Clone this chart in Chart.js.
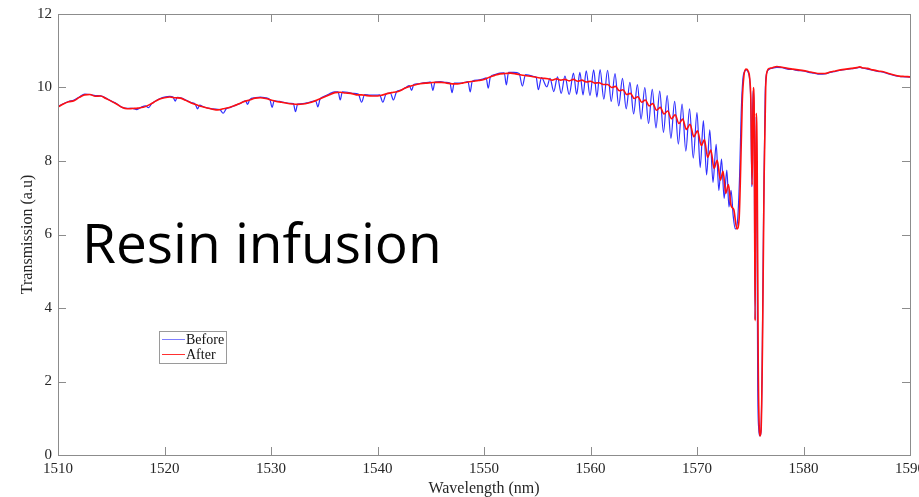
<!DOCTYPE html>
<html lang="en">
<head>
    <meta charset="UTF-8">
    <title>Resin infusion - transmission spectrum</title>
    <script src="https://cdn.jsdelivr.net/npm/chart.js"></script>
    <style>
        html, body { margin: 0; padding: 0; background: #fff; }
        #wrap { width: 919px; height: 497px; }
    </style>
</head>
<body>
    <div id="wrap">
        <canvas id="spectrum"></canvas>
    </div>

    <script>
        // axis ticks
        const xTicks = [1510, 1520, 1530, 1540, 1550, 1560, 1570, 1580, 1590];
        const yTicks = [0, 2, 4, 6, 8, 10, 12];

        // [wavelength (nm), transmission (a.u)]
        const before = [
            [1510.0, 9.48], [1510.5, 9.56], [1511.0, 9.62], [1511.5, 9.66], [1512.0, 9.74], [1512.5, 9.82],
            [1513.0, 9.81], [1513.5, 9.78], [1514.0, 9.77], [1514.5, 9.71], [1515.0, 9.63], [1515.5, 9.56],
            [1516.0, 9.46], [1516.5, 9.43], [1517.0, 9.43], [1517.4, 9.40], [1517.8, 9.46], [1518.2, 9.50],
            [1518.5, 9.45], [1518.8, 9.56], [1519.2, 9.64], [1519.6, 9.70], [1520.0, 9.74], [1520.5, 9.76],
            [1520.8, 9.74], [1521.0, 9.63], [1521.2, 9.73], [1521.6, 9.71], [1522.0, 9.66], [1522.5, 9.59],
            [1522.9, 9.54], [1523.1, 9.42], [1523.3, 9.52], [1523.7, 9.47], [1524.2, 9.43], [1524.7, 9.41],
            [1525.2, 9.40], [1525.5, 9.30], [1525.8, 9.42], [1526.2, 9.46], [1526.7, 9.52], [1527.2, 9.58],
            [1527.6, 9.64], [1527.8, 9.54], [1528.0, 9.67], [1528.5, 9.72], [1529.0, 9.74], [1529.5, 9.72],
            [1529.9, 9.67], [1530.1, 9.46], [1530.3, 9.64], [1530.8, 9.62], [1531.3, 9.59], [1531.8, 9.57],
            [1532.1, 9.56], [1532.3, 9.34], [1532.5, 9.55], [1533.0, 9.56], [1533.5, 9.59], [1534.0, 9.63],
            [1534.2, 9.64], [1534.4, 9.47], [1534.6, 9.68], [1535.0, 9.76], [1535.5, 9.83], [1536.0, 9.88],
            [1536.3, 9.88], [1536.5, 9.66], [1536.7, 9.88], [1537.2, 9.87], [1537.7, 9.84], [1538.2, 9.82],
            [1538.5, 9.60], [1538.8, 9.81], [1539.3, 9.79], [1539.8, 9.79], [1540.2, 9.80], [1540.5, 9.60],
            [1540.8, 9.82], [1541.2, 9.85], [1541.5, 9.66], [1541.8, 9.89], [1542.2, 9.93], [1542.6, 9.99],
            [1543.0, 10.05], [1543.2, 9.92], [1543.4, 10.08], [1543.8, 10.10], [1544.3, 10.13], [1544.8, 10.14],
            [1545.0, 10.15], [1545.2, 9.92], [1545.4, 10.15], [1545.9, 10.16], [1546.4, 10.14], [1546.8, 10.12],
            [1547.0, 9.86], [1547.2, 10.12], [1547.7, 10.12], [1548.2, 10.14], [1548.5, 10.16], [1548.7, 9.88],
            [1548.9, 10.17], [1549.4, 10.20], [1549.9, 10.23], [1550.2, 10.26], [1550.4, 9.98], [1550.6, 10.29],
            [1551.0, 10.35], [1551.5, 10.39], [1551.9, 10.40], [1552.1, 10.07], [1552.3, 10.41], [1552.8, 10.41],
            [1553.3, 10.38], [1553.6, 10.04], [1553.9, 10.35], [1554.3, 10.33], [1554.7, 10.30], [1554.9, 10.28],
            [1555.1, 9.94], [1555.4, 10.27],
            // fringes
            [1555.9, 10.02], [1556.2, 10.25], [1556.55, 9.89], [1556.9, 10.29], [1557.25, 9.84], [1557.6, 10.31],
            [1558.0, 9.81], [1558.4, 10.39], [1558.7, 9.81], [1559.0, 10.41], [1559.3, 9.80], [1559.6, 10.45],
            [1559.95, 9.78], [1560.3, 10.48], [1560.6, 9.74], [1560.9, 10.49], [1561.25, 9.68], [1561.6, 10.47],
            [1561.95, 9.62], [1562.3, 10.38], [1562.65, 9.50], [1563.0, 10.25], [1563.35, 9.42], [1563.7, 10.14],
            [1564.05, 9.28], [1564.4, 10.08], [1564.75, 9.14], [1565.1, 10.00], [1565.45, 9.02], [1565.8, 9.95],
            [1566.15, 8.90], [1566.5, 9.90], [1566.85, 8.78], [1567.2, 9.78], [1567.55, 8.62], [1567.9, 9.62],
            [1568.25, 8.46], [1568.6, 9.55], [1568.95, 8.27], [1569.3, 9.42], [1569.65, 8.08], [1570.0, 9.32],
            [1570.3, 7.82], [1570.6, 9.10], [1570.9, 7.62], [1571.2, 8.85], [1571.5, 7.42], [1571.8, 8.45],
            [1572.05, 7.20], [1572.3, 8.05], [1572.55, 6.98], [1572.8, 7.75], [1573.0, 6.75], [1573.2, 7.20],
            [1573.4, 6.50], [1573.6, 6.15],
            // notch
            [1573.8, 6.35], [1574.0, 7.6], [1574.15, 9.3], [1574.3, 10.2], [1574.5, 10.45], [1574.65, 10.48],
            [1574.8, 10.42], [1574.95, 10.2], [1575.05, 9.6], [1575.15, 7.3], [1575.25, 9.9], [1575.35, 9.5],
            [1575.45, 3.7], [1575.55, 9.2], [1575.62, 7.5], [1575.7, 2.0], [1575.8, 0.7], [1575.9, 0.52],
            [1576.0, 0.6], [1576.12, 2.5], [1576.25, 6.5], [1576.4, 9.8], [1576.55, 10.4], [1576.8, 10.5],
            [1577.0, 10.52], [1577.5, 10.55], [1578.0, 10.54], [1578.5, 10.50], [1579.0, 10.49], [1579.5, 10.46],
            [1580.0, 10.45], [1580.5, 10.41], [1581.0, 10.39], [1581.5, 10.36], [1582.0, 10.37], [1582.5, 10.41],
            [1583.0, 10.44], [1583.5, 10.47], [1584.0, 10.49], [1584.5, 10.51], [1585.0, 10.53], [1585.3, 10.55],
            [1585.5, 10.53], [1586.0, 10.50], [1586.5, 10.47], [1587.0, 10.44], [1587.5, 10.42], [1588.0, 10.37],
            [1588.5, 10.33], [1589.0, 10.30], [1589.5, 10.29], [1590.0, 10.28]
        ];

        const after = [
            [1510.0, 9.47], [1510.5, 9.55], [1511.0, 9.61], [1511.5, 9.64], [1512.0, 9.73], [1512.5, 9.80],
            [1513.0, 9.81], [1513.5, 9.76], [1514.0, 9.77], [1514.5, 9.70], [1515.0, 9.63], [1515.5, 9.55],
            [1516.0, 9.46], [1516.5, 9.42], [1517.0, 9.43], [1517.5, 9.44], [1518.0, 9.46], [1518.5, 9.52],
            [1519.0, 9.60], [1519.5, 9.68], [1520.0, 9.72], [1520.5, 9.74], [1521.0, 9.72], [1521.5, 9.71],
            [1522.0, 9.65], [1522.5, 9.58], [1523.0, 9.53], [1523.5, 9.48], [1524.0, 9.44], [1524.5, 9.41],
            [1525.0, 9.39], [1525.5, 9.42], [1526.0, 9.45], [1526.5, 9.50], [1527.0, 9.56], [1527.5, 9.62],
            [1528.0, 9.66], [1528.5, 9.71], [1529.0, 9.72], [1529.5, 9.70], [1530.0, 9.66], [1530.5, 9.62],
            [1531.0, 9.60], [1531.5, 9.57], [1532.0, 9.55], [1532.5, 9.54], [1533.0, 9.55], [1533.5, 9.58],
            [1534.0, 9.62], [1534.5, 9.68], [1535.0, 9.74], [1535.5, 9.80], [1536.0, 9.86], [1536.5, 9.87],
            [1537.0, 9.85], [1537.5, 9.84], [1538.0, 9.80], [1538.5, 9.80], [1539.0, 9.78], [1539.5, 9.77],
            [1540.0, 9.77], [1540.5, 9.80], [1541.0, 9.84], [1541.5, 9.87], [1542.0, 9.90], [1542.5, 9.97],
            [1543.0, 10.03], [1543.5, 10.07], [1544.0, 10.10], [1544.5, 10.12], [1545.0, 10.13], [1545.5, 10.14],
            [1546.0, 10.14], [1546.5, 10.12], [1547.0, 10.10], [1547.5, 10.10], [1548.0, 10.12], [1548.5, 10.15],
            [1549.0, 10.17], [1549.5, 10.19], [1550.0, 10.22], [1550.5, 10.28], [1551.0, 10.33], [1551.5, 10.37],
            [1552.0, 10.38], [1552.5, 10.39], [1553.0, 10.37], [1553.5, 10.34], [1554.0, 10.32], [1554.5, 10.30],
            [1555.0, 10.27], [1555.5, 10.25], [1556.0, 10.24], [1556.4, 10.20], [1556.8, 10.24], [1557.2, 10.20],
            [1557.6, 10.22], [1558.0, 10.18], [1558.4, 10.22], [1558.8, 10.17], [1559.2, 10.20], [1559.6, 10.15],
            [1560.0, 10.17], [1560.4, 10.12], [1560.8, 10.13], [1561.2, 10.08], [1561.6, 10.08], [1562.0, 10.00],
            [1562.35, 10.03], [1562.7, 9.91], [1563.05, 9.94], [1563.4, 9.81], [1563.75, 9.84], [1564.1, 9.70],
            [1564.45, 9.75], [1564.8, 9.60], [1565.15, 9.66], [1565.5, 9.50], [1565.85, 9.56], [1566.2, 9.38],
            [1566.55, 9.46], [1566.9, 9.28], [1567.25, 9.36], [1567.6, 9.15], [1567.95, 9.26], [1568.3, 9.02],
            [1568.65, 9.14], [1569.0, 8.86], [1569.35, 9.00], [1569.7, 8.66], [1570.05, 8.82], [1570.4, 8.42],
            [1570.7, 8.58], [1571.0, 8.10], [1571.3, 8.30], [1571.6, 7.80], [1571.9, 8.02], [1572.2, 7.48],
            [1572.45, 7.72], [1572.7, 7.12], [1572.95, 7.36], [1573.2, 6.78], [1573.45, 6.68], [1573.75, 6.15],
            [1573.95, 6.40], [1574.1, 7.8], [1574.25, 9.6], [1574.4, 10.3], [1574.6, 10.5], [1574.8, 10.45],
            [1574.95, 10.25], [1575.05, 9.7], [1575.18, 7.35], [1575.28, 10.0], [1575.36, 9.6], [1575.46, 3.65],
            [1575.56, 9.3], [1575.65, 8.0], [1575.75, 2.5], [1575.85, 0.7], [1575.92, 0.52], [1576.02, 0.7],
            [1576.15, 3.0], [1576.3, 7.5], [1576.45, 10.0], [1576.6, 10.45], [1576.8, 10.52],
            [1577.0, 10.53], [1577.5, 10.57], [1578.0, 10.55], [1578.5, 10.52], [1579.0, 10.50], [1579.5, 10.48],
            [1580.0, 10.46], [1580.5, 10.43], [1581.0, 10.40], [1581.5, 10.38], [1582.0, 10.38], [1582.5, 10.42],
            [1583.0, 10.45], [1583.5, 10.48], [1584.0, 10.50], [1584.5, 10.52], [1585.0, 10.54], [1585.3, 10.56],
            [1585.5, 10.54], [1586.0, 10.52], [1586.5, 10.48], [1587.0, 10.45], [1587.5, 10.43], [1588.0, 10.38],
            [1588.5, 10.34], [1589.0, 10.31], [1589.5, 10.30], [1590.0, 10.29]
        ];

        const serif = "'Liberation Serif', 'Times New Roman', serif";
        const axisGrey = '#8c8c8c';

        // MATLAB style box: frame, inward ticks, legend and the big label
        const matlabBox = {
            id: 'matlabBox',
            afterDraw(chart) {
                const { ctx, chartArea: a, scales: { x, y } } = chart;
                ctx.save();
                ctx.strokeStyle = axisGrey;
                ctx.lineWidth = 1;
                ctx.strokeRect(a.left + 0.5, a.top + 0.5, a.right - a.left, a.bottom - a.top);
                ctx.beginPath();
                xTicks.forEach(v => {
                    const px = Math.round(x.getPixelForValue(v)) + 0.5;
                    ctx.moveTo(px, a.bottom); ctx.lineTo(px, a.bottom - 8);
                    ctx.moveTo(px, a.top); ctx.lineTo(px, a.top + 8);
                });
                yTicks.forEach(v => {
                    const py = Math.round(y.getPixelForValue(v)) + 0.5;
                    ctx.moveTo(a.left, py); ctx.lineTo(a.left + 8, py);
                    ctx.moveTo(a.right, py); ctx.lineTo(a.right - 8, py);
                });
                ctx.stroke();

                // legend
                const lx = a.left + 101, ly = a.top + 317;
                ctx.fillStyle = '#fff';
                ctx.fillRect(lx, ly, 67, 32);
                ctx.strokeStyle = '#9a9a9a';
                ctx.strokeRect(lx + 0.5, ly + 0.5, 67, 32);
                ctx.lineWidth = 1;
                ctx.strokeStyle = '#7f7fff';
                ctx.beginPath(); ctx.moveTo(lx + 3, ly + 8.5); ctx.lineTo(lx + 26, ly + 8.5); ctx.stroke();
                ctx.strokeStyle = '#ff3030';
                ctx.beginPath(); ctx.moveTo(lx + 3, ly + 23.5); ctx.lineTo(lx + 26, ly + 23.5); ctx.stroke();
                ctx.fillStyle = '#111';
                ctx.font = '14px ' + serif;
                ctx.textBaseline = 'middle';
                ctx.fillText('Before', lx + 27, ly + 9);
                ctx.fillText('After', lx + 27, ly + 24);

                // overlay label
                ctx.font = "55px 'Open Sans', 'Noto Sans', sans-serif";
                ctx.textBaseline = 'alphabetic';
                ctx.fillStyle = '#000';
                ctx.fillText('Resin infusion', x.getPixelForValue(1512.25), y.getPixelForValue(5.22));
                ctx.restore();
            }
        };

        const toXY = arr => arr.map(p => ({ x: p[0], y: p[1] }));

        new Chart(document.getElementById('spectrum'), {
            type: 'line',
            data: {
                datasets: [
                    {
                        label: 'Before',
                        data: toXY(before),
                        borderColor: 'rgba(10,10,255,0.85)',
                        borderWidth: 1.2,
                        pointRadius: 0,
                        cubicInterpolationMode: 'monotone',
                        order: 2
                    },
                    {
                        label: 'After',
                        data: toXY(after),
                        borderColor: '#ff1010',
                        borderWidth: 1.6,
                        pointRadius: 0,
                        cubicInterpolationMode: 'monotone',
                        order: 1
                    }
                ]
            },
            plugins: [matlabBox],
            options: {
                responsive: true,
                maintainAspectRatio: false,
                animation: false,
                layout: { padding: { top: 14, right: 9, left: 0, bottom: 0 } },
                plugins: {
                    legend: { display: false },
                    tooltip: { enabled: false }
                },
                scales: {
                    x: {
                        type: 'linear',
                        min: 1510,
                        max: 1590,
                        grid: { display: false, drawTicks: false },
                        border: { display: false },
                        afterBuildTicks: s => { s.ticks = xTicks.map(v => ({ value: v })); },
                        afterFit: s => { s.height = 42; s.paddingLeft = 0; s.paddingRight = 0; },
                        ticks: {
                            color: '#262626',
                            padding: 5,
                            maxRotation: 0,
                            autoSkip: false,
                            font: { family: serif, size: 15 },
                            callback: v => String(v)
                        },
                        title: {
                            display: true,
                            text: 'Wavelength (nm)',
                            color: '#262626',
                            padding: 0,
                            font: { family: serif, size: 16, lineHeight: 1 }
                        }
                    },
                    y: {
                        min: 0,
                        max: 12,
                        grid: { display: false, drawTicks: false },
                        border: { display: false },
                        afterBuildTicks: s => { s.ticks = yTicks.map(v => ({ value: v })); },
                        afterFit: s => { s.width = 58; s.paddingTop = 0; s.paddingBottom = 0; },
                        ticks: {
                            color: '#262626',
                            padding: 6,
                            font: { family: serif, size: 15 },
                            callback: v => String(v)
                        },
                        title: {
                            display: true,
                            text: 'Transmission (a.u)',
                            color: '#262626',
                            padding: { top: 20, bottom: 0 },
                            font: { family: serif, size: 16, lineHeight: 1 }
                        }
                    }
                }
            }
        });
    </script>
</body>
</html>
